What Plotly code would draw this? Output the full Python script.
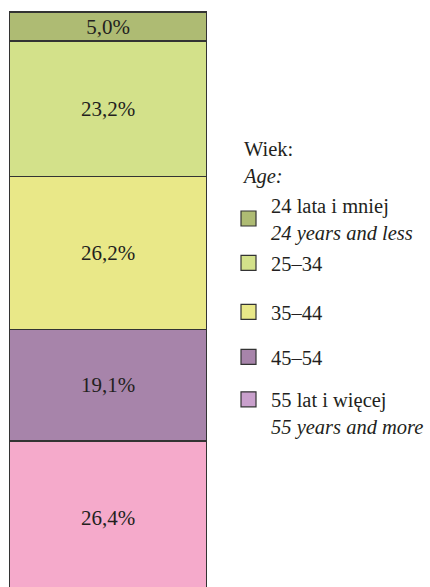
import plotly.graph_objects as go

# Data (bottom to top of the stacked bar)
groups_pl = ["55 lat i więcej", "45–54", "35–44", "25–34", "24 lata i mniej"]
groups_en = ["55 years and more", "", "", "", "24 years and less"]
shares = [26.4, 19.1, 26.2, 23.2, 5.0]
bar_colors = ["#F5AACB", "#A784AA", "#E9E888", "#D3E18A", "#AEBB73"]
legend_colors = ["#C9A0CC", "#A784AA", "#E9E888", "#D3E18A", "#AEBB73"]
legend_title = "Wiek:<br><i>Age:</i>"

FONT = "Times New Roman"
TXT = "#231F20"

fig = go.Figure()

for name, val, col in zip(groups_pl, shares, bar_colors):
    fig.add_trace(go.Bar(
        x=[0], y=[val], width=[1], name=name,
        marker=dict(color=col, line=dict(color="#333333", width=1.5)),
        texttemplate="%{y:.1f}%", textposition="inside",
        insidetextanchor="middle", constraintext="none", textangle=0,
        textfont=dict(family=FONT, size=21, color=TXT),
        showlegend=False, hoverinfo="skip",
    ))

# legend layout: one legend box per entry (top to bottom)
legend_ids = ["legend5", "legend4", "legend3", "legend2", "legend"]
legend_ys = {"legend": 0.638, "legend2": 0.5615, "legend3": 0.4766,
             "legend4": 0.3986, "legend5": 0.3015}
legend_valign = {"legend": "middle", "legend5": "top"}

for i in reversed(range(len(groups_pl))):
    label = groups_pl[i]
    if groups_en[i]:
        label += "<br><i>" + groups_en[i] + "</i>"
    fig.add_trace(go.Scatter(
        x=[None], y=[None], mode="markers", name=label,
        legend=legend_ids[i], showlegend=True,
        marker=dict(symbol="square", size=15, color=legend_colors[i],
                    line=dict(color="#333333", width=1.2)),
    ))

layout_legends = {}
for lid, ly in legend_ys.items():
    layout_legends[lid] = dict(
        x=1.096, xanchor="left", y=ly, yanchor="middle",
        font=dict(family=FONT, size=20.5, color=TXT),
        valign=legend_valign.get(lid, "middle"),
        bgcolor="rgba(0,0,0,0)", itemwidth=35,
    )

fig.update_layout(
    barmode="stack",
    width=430, height=587,
    margin=dict(l=9, r=223, t=10, b=0, autoexpand=False),
    paper_bgcolor="white", plot_bgcolor="white",
    separators=", ",
    xaxis=dict(range=[-0.5, 0.5], visible=False, fixedrange=True),
    yaxis=dict(range=[1.44, 100.24], visible=False, fixedrange=True),
    font=dict(family=FONT, size=20.5, color=TXT),
    showlegend=True,
    annotations=[dict(
        text=legend_title, xref="paper", yref="paper",
        x=1.1667, xanchor="left", y=0.735, yanchor="middle",
        showarrow=False, align="left",
        font=dict(family=FONT, size=20.5, color=TXT),
    )],
    **layout_legends,
)

fig.write_html("out.html", config={"displayModeBar": False},
               post_script="document.body.style.margin='0';")
